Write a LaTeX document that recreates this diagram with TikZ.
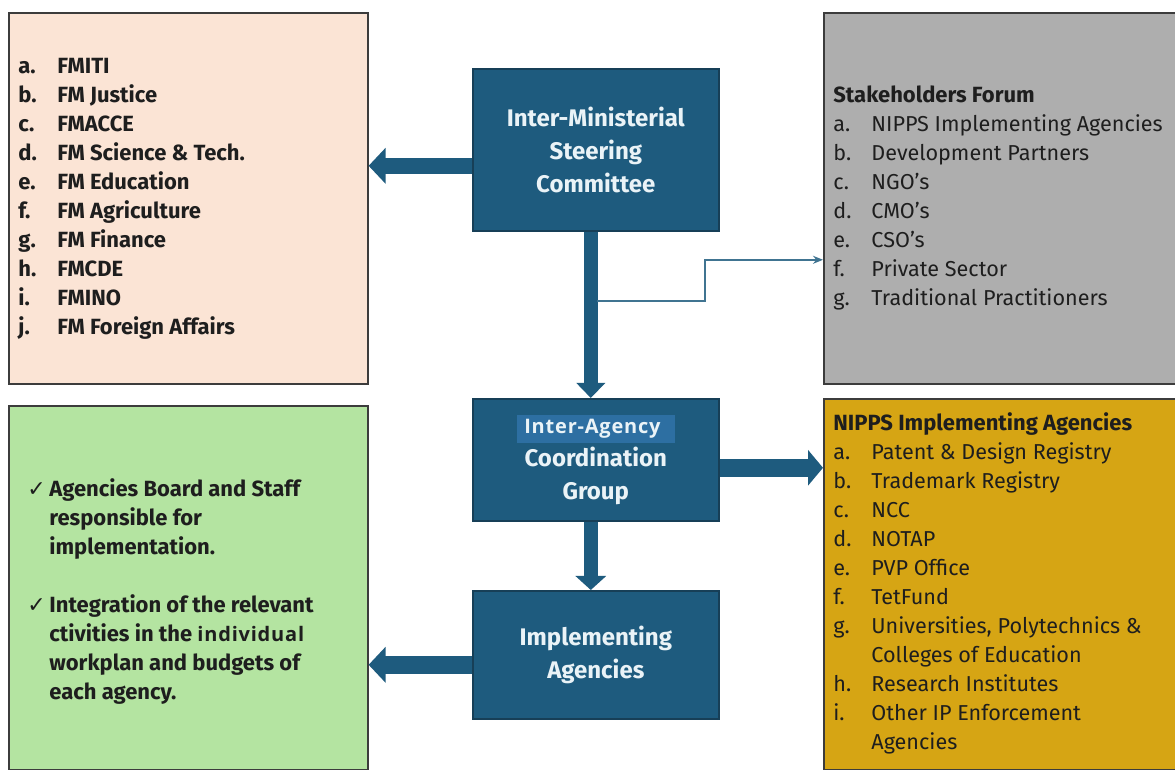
\documentclass[tikz,border=0pt]{standalone}
\usepackage{fontspec}
\setmainfont{Fira Sans}
\newfontfamily\patchfont{Open Sans}
\newfontfamily\symfont{DejaVu Sans}
\usetikzlibrary{positioning,arrows.meta}

\definecolor{navy}{HTML}{1E5B7E}
\definecolor{navyedge}{HTML}{173F57}
\definecolor{patchblue}{HTML}{2D6FA2}
\definecolor{peach}{HTML}{FBE4D5}
\definecolor{ash}{HTML}{AEAEAE}
\definecolor{mint}{HTML}{B4E4A1}
\definecolor{gold}{HTML}{D6A514}
\definecolor{edge}{HTML}{3C3C3C}
\definecolor{ink}{HTML}{1E1E1E}
\definecolor{paper}{HTML}{EAF3F7}

\newcommand{\tick}{\makebox[11pt][l]{\symfont\bfseries ✓}}

\begin{document}
\begin{tikzpicture}[x=0.5pt,y=-0.5pt]
\tikzstyle{panel}=[rectangle, draw=edge, line width=0.8pt, anchor=north west, inner sep=0pt]
\tikzstyle{unit}=[rectangle, draw=navyedge, line width=0.8pt, fill=navy, text=paper, anchor=north west, minimum width=123pt, align=center, font=\fontsize{12}{16.5}\selectfont\bfseries]
\tikzstyle{item}=[anchor=base west, inner sep=0pt, text=ink, font=\fontsize{10.8}{12}\selectfont]
\tikzstyle{bolditem}=[item, font=\fontsize{11}{12}\selectfont\bfseries]
\tikzstyle{flow}=[draw=navy, line width=8pt]
\tikzstyle{link}=[draw=navy!85, line width=1pt, -{Stealth[length=5pt,width=4pt]}]
\useasboundingbox (0,0) rectangle (1175,770);
\fill[white] (0,0) rectangle (1175,770);
	% side panels
	\node[panel, fill=peach, minimum width=179.5pt, minimum height=185.5pt] (fm) at (8,12) {};
	\node[panel, fill=ash, minimum width=176pt, minimum height=185.5pt] (sf) at (823,12) {};
	\node[panel, fill=mint, minimum width=179.5pt, minimum height=182pt] (board) at (8,405) {};
	\node[panel, fill=gold, minimum width=176pt, minimum height=185.5pt] (nia) at (823,398) {};
	% central chain
	\node[unit, minimum height=81pt] (isc) at (472,68) {Inter-Ministerial\\Steering\\Committee};
	\node[unit, minimum height=61pt] (iacg) at (472,398) {{\patchfont\bfseries\fontsize{10}{12}\selectfont\addfontfeature{LetterSpace=4}\fboxsep=2.2pt\colorbox{patchblue}{\,Inter-Agency\,\,\,}}\\Coordination\\Group};
	\node[unit, minimum height=64pt] (ia) at (472,590) {Implementing\\Agencies};
	% ministries
	\foreach \k/\t [count=\i] in {a./FMITI, b./FM Justice, c./FMACCE, d./FM Science \& Tech., e./FM Education, f./FM Agriculture, g./FM Finance, h./FMCDE, i./FMINO, j./FM Foreign Affairs}
		\node[bolditem] (fm\i) at (18,{74+29*(\i-1)}) {\makebox[19.5pt][l]{\k}\t};
	% stakeholders
	\node[bolditem] (sfhead) at (833,103) {Stakeholders Forum};
	\foreach \k/\t [count=\i] in {a./NIPPS Implementing Agencies, b./Development Partners, c./NGO’s, d./CMO’s, e./CSO’s, f./Private Sector, g./Traditional Practitioners}
		\node[item] (sf\i) at (833,{132+29*(\i-1)}) {\makebox[19pt][l]{\k}\t};
	% implementing agencies
	\node[bolditem] (niahead) at (833,431) {NIPPS Implementing Agencies};
	\foreach \k/\t [count=\i] in {a./Patent \& Design Registry, b./Trademark Registry, c./NCC, d./NOTAP, e./PVP Office, f./TetFund, g./{Universities, Polytechnics \&}, {}/Colleges of Education, h./Research Institutes, i./Other IP Enforcement, {}/Agencies}
		\node[item] (nia\i) at (833,{460+29*(\i-1)}) {\makebox[19pt][l]{\k}\t};
	% board duties
	\node[bolditem] (duty1) at (27,497) {\tick Agencies Board and Staff};
	\node[bolditem] (duty2) at (49,526) {responsible for};
	\node[bolditem] (duty3) at (49,555) {implementation.};
	\node[bolditem] (duty4) at (27,613) {\tick Integration of the relevant};
	\node[bolditem] (duty5) at (49,642) {ctivities in the {\patchfont\bfseries\fontsize{10}{12}\selectfont\addfontfeature{LetterSpace=4}individual}};
	\node[bolditem] (duty6) at (49,671) {workplan and budgets of};
	\node[bolditem] (duty7) at (49,700) {each agency.};
	% arrows
	\draw[flow, -{Triangle[length=8.5pt,width=17.5pt]}] ([yshift=-8pt]isc.west) -- ([yshift=-8pt]isc.west -| fm.east);
	\draw[flow, line width=7pt, -{Triangle[length=7.5pt,width=14pt]}] ([xshift=-2.5pt]isc.south) -- ([xshift=-2.5pt]iacg.north);
	\draw[flow, line width=9pt, -{Triangle[length=7.5pt,width=17.5pt]}] ([yshift=-4pt]iacg.east) -- ([yshift=-4pt]iacg.east -| nia.west);
	\draw[flow, line width=7pt, -{Triangle[length=7pt,width=15pt]}] ([xshift=-2.5pt]iacg.south) -- ([xshift=-2.5pt]ia.north);
	\draw[flow, line width=9pt, -{Triangle[length=8.5pt,width=17.5pt]}] ([yshift=-5pt]ia.west) -- ([yshift=-5pt]ia.west -| board.east);
	\coordinate (tap) at (597,301);
	\draw[link] (tap) -- ++(108,0) |- ([yshift=-30.75pt]sf.west);
\end{tikzpicture}
\end{document}
